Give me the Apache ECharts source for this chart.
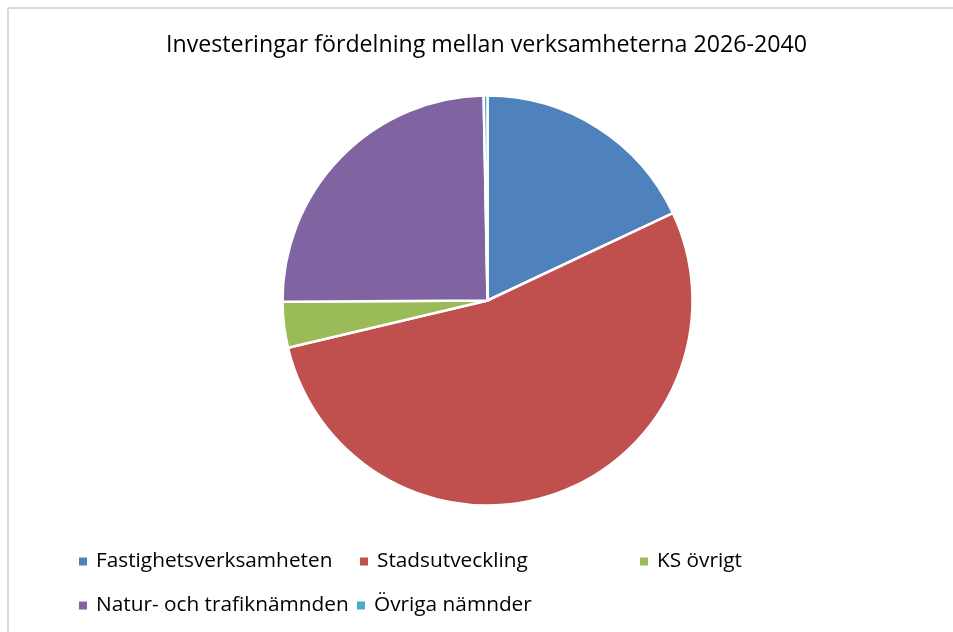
<!DOCTYPE html>
<html><head><meta charset="utf-8">
<script src="https://cdn.jsdelivr.net/npm/echarts@6/dist/echarts.min.js"></script>
<style>html,body{margin:0;padding:0;background:#fff}#c{width:953px;height:632px}</style>
</head><body><div id="c"></div>
<script>
const titleText = 'Investeringar fördelning mellan verksamheterna 2026-2040';
const categories = ['Fastighetsverksamheten','Stadsutveckling','KS övrigt','Natur- och trafiknämnden','Övriga nämnder'];
const values = [18.0, 53.3, 3.6, 24.8, 0.3];
const colors = ['#4F81BD','#C0504D','#9BBB59','#8064A2','#4BACC6'];
const legendPos = [[72,546],[353,546],[633,546],[72,590],[350,590]];
const FONT = 'Open Sans';
const chart = echarts.init(document.getElementById('c'), null, {renderer:'canvas'});
chart.setOption({
  animation:false,
  color: colors,
  title:{text:titleText,left:161,top:29,textStyle:{fontFamily:FONT,fontSize:23.2,fontWeight:'normal',color:'#000'}},
  legend: categories.map((c,i)=>({
    data:[c], left:legendPos[i][0], top:legendPos[i][1], icon:'rect', itemWidth:10, itemHeight:10, itemGap:0,
    selectedMode:false, textStyle:{fontFamily:FONT,fontSize:20.8,color:'#000',padding:[0,0,0,3]}
  })),
  graphic:[
    {type:'line',shape:{x1:8,y1:8,x2:953,y2:8},style:{stroke:'#d9d9d9',lineWidth:2},silent:true},
    {type:'line',shape:{x1:8,y1:8,x2:8,y2:632},style:{stroke:'#d9d9d9',lineWidth:2},silent:true}
  ],
  series:[{
    type:'pie', center:[487.5,300.5], radius:[0,205], startAngle:90, clockwise:true,
    label:{show:false}, labelLine:{show:false},
    itemStyle:{borderColor:'#fff',borderWidth:2.5},
    emphasis:{disabled:true},
    data: categories.map((c,i)=>({name:c,value:values[i]}))
  }]
});
</script></body></html>
